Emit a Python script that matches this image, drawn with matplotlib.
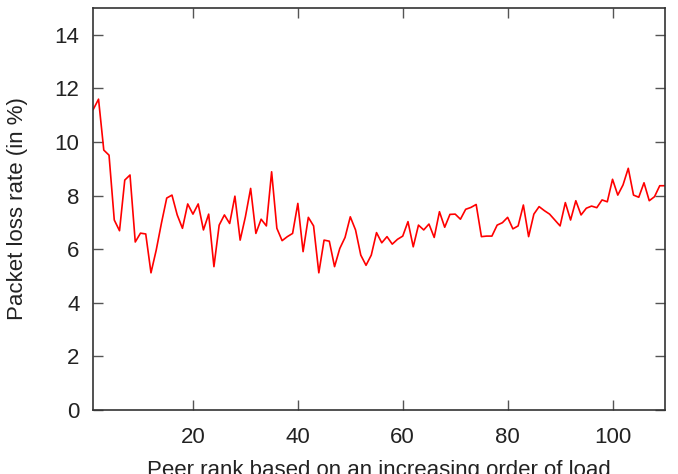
import numpy as np
import matplotlib.pyplot as plt

# Packet loss rate per peer rank
rank = np.arange(1, 111)
loss = [
    11.22, 11.60, 9.70, 9.51, 7.09, 6.69, 8.58, 8.77, 6.27, 6.60,
    6.57, 5.12, 5.97, 6.98, 7.91, 8.02, 7.28, 6.78, 7.69, 7.31,
    7.69, 6.72, 7.31, 5.35, 6.90, 7.28, 6.96, 7.98, 6.34, 7.21,
    8.27, 6.59, 7.12, 6.87, 8.89, 6.78, 6.32, 6.47, 6.59, 7.71,
    5.91, 7.19, 6.87, 5.12, 6.34, 6.30, 5.35, 6.03, 6.44, 7.21,
    6.72, 5.78, 5.40, 5.78, 6.62, 6.24, 6.47, 6.19, 6.37, 6.49,
    7.03, 6.09, 6.90, 6.72, 6.94, 6.44, 7.40, 6.82, 7.30, 7.31,
    7.12, 7.49, 7.56, 7.67, 6.47, 6.49, 6.49, 6.90, 6.99, 7.19,
    6.76, 6.87, 7.65, 6.47, 7.31, 7.59, 7.44, 7.31, 7.09, 6.87,
    7.74, 7.09, 7.81, 7.28, 7.53, 7.61, 7.55, 7.84, 7.77, 8.61,
    8.02, 8.40, 9.02, 8.02, 7.94, 8.48, 7.81, 7.96, 8.37, 8.37,
]
xticks = [20, 40, 60, 80, 100]
yticks = [0, 2, 4, 6, 8, 10, 12, 14]

plt.rcParams['font.family'] = ['Liberation Sans', 'DejaVu Sans']
plt.rcParams['font.size'] = 16

fig = plt.figure(figsize=(6.78, 4.74), dpi=100)
ax = fig.add_axes([0.1376, 0.135, 0.8432, 0.848])

ax.plot(rank, loss, color='#ff0000', linewidth=1.2)

ax.set_xlim(1, 110)
ax.set_ylim(0, 15)
ax.set_xticks(xticks)
ax.set_yticks(yticks)

for s in ax.spines.values():
    s.set_color('#333333')
    s.set_linewidth(1.2)

ax.tick_params(direction='in', length=7.5, width=1.0, color='#555555',
               top=True, right=True, labelcolor='#222222')
ax.tick_params(axis='x', pad=12)
ax.tick_params(axis='y', pad=10)

ax.set_xlabel('Peer rank based on an increasing order of load',
              color='#222222', labelpad=9)
ax.set_ylabel('Packet loss rate (in %)', color='#222222', labelpad=19)

fig.savefig('out.png', dpi=100)
